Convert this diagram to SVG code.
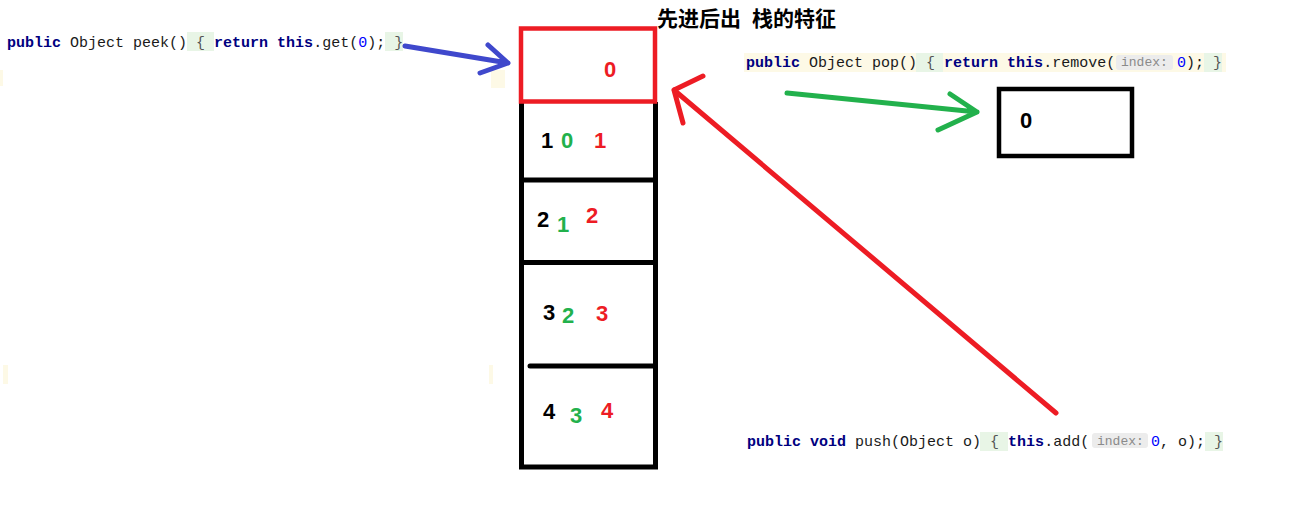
<svg xmlns="http://www.w3.org/2000/svg" width="1313" height="514" viewBox="0 0 1313 514">
<style>
.code{font-family:"Liberation Mono",monospace;font-size:15px;fill:#1a1a1a;}
.kw{fill:#000080;font-weight:bold;}
.num{fill:#0000ff;}
.br{fill:#555;}
.hint{font-family:"Liberation Mono",monospace;font-size:13px;fill:#8a8a8a;}
.hintbg{fill:#ececec;}
.gbg{fill:#e8f5e6;}
.ybg{fill:#fdf9e6;}
.dig{font-family:"Liberation Sans",Arial,sans-serif;font-size:22px;font-weight:bold;}
.k{fill:#000;} .g{fill:#22b14c;} .r{fill:#ed1c24;}
.box{fill:none;stroke:#000;stroke-width:5;}
.arr{fill:none;stroke-width:5;stroke-linecap:round;stroke-linejoin:round;}
.ttl{font-family:"Noto Sans CJK SC",sans-serif;font-size:21px;font-weight:bold;fill:#000;}
</style>
<rect width="1313" height="514" fill="#fff"/>
<!-- faint artifacts -->
<rect class="ybg" x="0" y="70" width="3" height="16"/>
<rect class="ybg" x="491" y="70" width="14" height="18"/>
<rect class="ybg" x="3" y="365" width="5" height="19"/>
<rect class="ybg" x="489" y="365" width="4" height="19"/>

<g id="title">
<text class="ttl" x="657" y="26">先进后出<tspan x="752">栈的特征</tspan></text>
</g>

<g id="peek">
<rect class="gbg" x="187" y="32" width="27" height="19"/>
<rect class="gbg" x="385" y="32" width="18" height="19"/>
<text class="code" x="7" y="47" xml:space="preserve"><tspan class="kw">public</tspan> Object peek() <tspan class="br">{</tspan> <tspan class="kw">return</tspan> <tspan class="kw">this</tspan>.get(<tspan class="num">0</tspan>); <tspan class="br">}</tspan></text>
</g>

<g id="pop">
<rect class="ybg" x="744" y="53" width="482" height="19"/>
<rect class="gbg" x="916" y="53" width="27" height="19"/>
<rect class="gbg" x="1204" y="53" width="18" height="19"/>
<rect class="hintbg" x="1116" y="55" width="57" height="15" rx="3"/>
<text class="code" x="746" y="67" xml:space="preserve"><tspan class="kw">public</tspan> Object pop() <tspan class="br">{</tspan> <tspan class="kw">return</tspan> <tspan class="kw">this</tspan>.remove(</text>
<text class="hint" x="1121" y="66">index:</text>
<text class="code" x="1177" y="67" xml:space="preserve"><tspan class="num">0</tspan>); <tspan class="br">}</tspan></text>
</g>

<g id="push">
<rect class="gbg" x="980" y="432" width="28" height="19"/>
<rect class="gbg" x="1205" y="432" width="18" height="19"/>
<rect class="hintbg" x="1092" y="433" width="56" height="15" rx="3"/>
<text class="code" x="747" y="446" xml:space="preserve"><tspan class="kw">public</tspan> <tspan class="kw">void</tspan> push(Object o) <tspan class="br">{</tspan> <tspan class="kw">this</tspan>.add(</text>
<text class="hint" x="1097" y="445">index:</text>
<text class="code" x="1151" y="446" xml:space="preserve"><tspan class="num">0</tspan>, o); <tspan class="br">}</tspan></text>
</g>

<g id="stack">
<path class="box" d="M521.5,102 V467 H655.5 V102"/>
<line class="box" x1="521.5" y1="180" x2="655.5" y2="180"/>
<line class="box" x1="521.5" y1="262.5" x2="655.5" y2="262.5"/>
<line class="box" x1="530" y1="366" x2="655.5" y2="366" stroke-linecap="round"/>
<text class="dig k" x="541" y="148">1</text>
<text class="dig g" x="561" y="148">0</text>
<text class="dig r" x="594" y="148">1</text>
<text class="dig k" x="537" y="227">2</text>
<text class="dig g" x="557" y="232">1</text>
<text class="dig r" x="586" y="223">2</text>
<text class="dig k" x="543" y="320">3</text>
<text class="dig g" x="562" y="323">2</text>
<text class="dig r" x="596" y="321">3</text>
<text class="dig k" x="543" y="419">4</text>
<text class="dig g" x="570" y="423">3</text>
<text class="dig r" x="601" y="418">4</text>
</g>

<g id="top">
<rect x="521" y="28.5" width="134" height="73" fill="none" stroke="#ed1c24" stroke-width="4.5"/>
<text class="dig r" x="604" y="77">0</text>
</g>

<g id="popped">
<rect x="999" y="89" width="133" height="67" fill="none" stroke="#000" stroke-width="4.5"/>
<text class="dig k" x="1020" y="128">0</text>
</g>

<g id="connectors">
<path class="arr" stroke="#3f48cc" d="M405,46 L508,63 M488,45 L508,63 L480,73"/>
<path class="arr" stroke="#22b14c" d="M787,93 L977,112 M950,94 L977,112 L938,130"/>
<path class="arr" stroke="#ed1c24" d="M1056,413 L674,90 M703,76 L674,90 L683,123"/>
</g>
</svg>
